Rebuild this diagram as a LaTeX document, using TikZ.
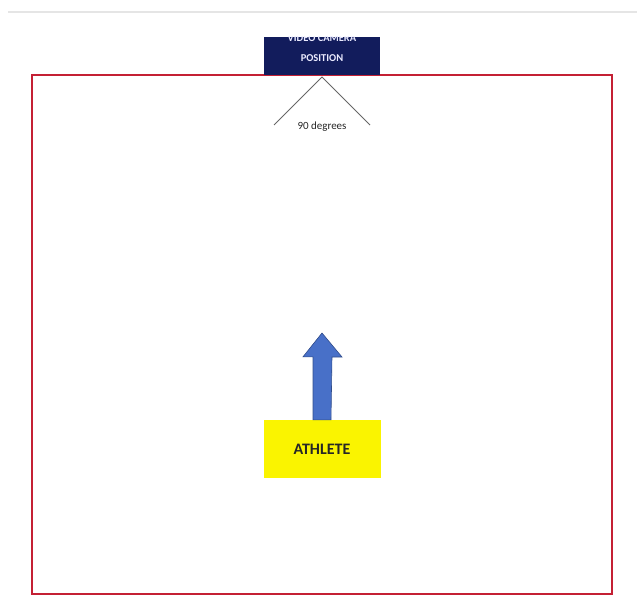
\documentclass[tikz,border=0pt]{standalone}
\usepackage{fontspec}
\setmainfont{Carlito}
\usetikzlibrary{calc}

\definecolor{frame}{RGB}{196,32,52}
\definecolor{navy}{RGB}{18,28,92}
\definecolor{athblue}{RGB}{72,112,200}
\definecolor{athyellow}{RGB}{250,244,0}

\begin{document}
\begin{tikzpicture}[x=1pt,y=-1pt,
    cam/.style={fill=navy,minimum width=116pt,minimum height=38pt,inner sep=0pt},
    camtext/.style={text=white!92!blue,font=\fontsize{10.5}{12}\selectfont\bfseries,
      align=center,inner sep=0pt},
    ath/.style={fill=athyellow,text=black!85,font=\fontsize{16}{18}\selectfont\bfseries,
      minimum width=117pt,minimum height=58pt,inner sep=0pt},
    view/.style={draw=black!60,line width=0.8pt}]
  \useasboundingbox (0,0) rectangle (637,597);
  % screenshot edge
  \draw[black!10,line width=2pt] (8,12) -- (637,12);
  % field
  \draw[frame,line width=2.8pt] (32,75) rectangle (612,594);
  % camera
  \node[cam] (camera) at (322,56) {};
  \begin{scope}
    \clip (camera.north west) rectangle (camera.south east);
    \node[camtext] (camlabel) at (322,48) {VIDEO CAMERA\\[8pt]POSITION};
  \end{scope}
  \coordinate (apex) at (322,77);
  \coordinate (left) at (274,125);
  \coordinate (right) at (370,125);
  \node[font=\fontsize{11}{12}\selectfont,text=black!85,inner sep=1pt,anchor=base] (angle)
    at (322,129) {90 degrees};
  \draw[view] (left) -- (apex) -- (right);
  % athlete
  \node[ath] (athlete) at (322,449) {ATHLETE};
  \fill[athblue,draw=athblue!70!black,line width=0.6pt]
    ($(athlete.north)+(-9,0)$) -- ++(0,-63) -- ++(-10,0) -- (322,333)
    -- ++(20,24) -- ++(-10,0) -- ($(athlete.north)+(9,0)$) -- cycle;
\end{tikzpicture}
\end{document}
